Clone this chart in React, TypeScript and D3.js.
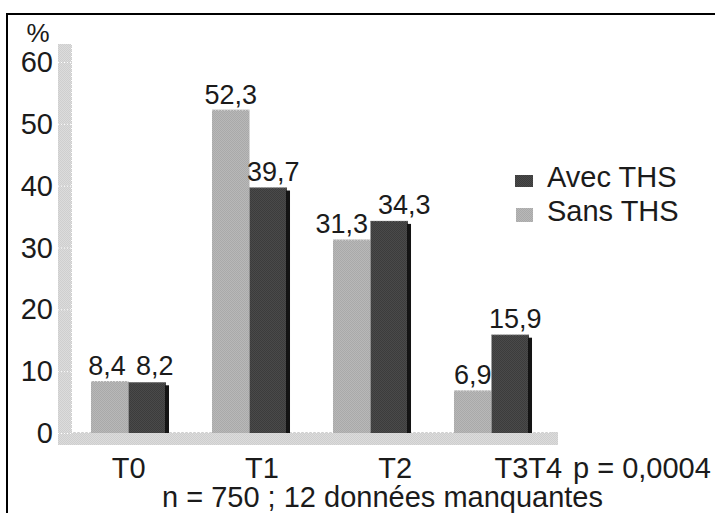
import React from "react";
import * as d3 from "d3";

const categories = ["T0", "T1", "T2", "T3T4"];
const avecTHS = [8.2, 39.7, 34.3, 15.9];
const sansTHS = [8.4, 52.3, 31.3, 6.9];
const yTicks = [0, 10, 20, 30, 40, 50, 60];
const seriesNames = ["Avec THS", "Sans THS"];

const W = 715;
const H = 513;
const FONT = "'Liberation Sans', Arial, Helvetica, sans-serif";
const TEXT = "#1b1b1b";
const SHADOW = "#141414";

const fmt = (v: number) => v.toFixed(1).replace(".", ",");

export default function App() {
  const y = d3.scaleLinear().domain([0, 60]).range([433, 62]);
  const x = d3
    .scaleBand<string>()
    .domain(categories)
    .range([68, 552])
    .paddingInner(0.38)
    .paddingOuter(0.19);
  // category captions sit on a slightly wider projected axis
  const xLabel = d3.scaleBand<string>().domain(categories).range([62, 595]);
  const barW = x.bandwidth() / 2;

  const wallX0 = 58;
  const wallX1 = 72;
  const floorY0 = y(0) - 1;
  const floorY1 = floorY0 + 13;
  const floorX1 = 558;

  const labelFont = 27;
  const bigFont = 29;
  const textW = (s: string) => s.length * 0.54 * labelFont;

  return (
    <svg
      width={W}
      height={H}
      viewBox={`0 0 ${W} ${H}`}
      style={{ position: "fixed", left: 0, top: 0, background: "#fff" }}
      fontFamily={FONT}
    >
      <defs>
        <pattern id="ditherLight" width="2" height="2" patternUnits="userSpaceOnUse">
          <rect width="2" height="2" fill="#b8b8b8" />
          <rect width="1" height="1" fill="#a9a9a9" />
          <rect x="1" y="1" width="1" height="1" fill="#a9a9a9" />
        </pattern>
        <pattern id="ditherDark" width="2" height="2" patternUnits="userSpaceOnUse">
          <rect width="2" height="2" fill="#4a4a4a" />
          <rect width="1" height="1" fill="#3c3c3c" />
          <rect x="1" y="1" width="1" height="1" fill="#3c3c3c" />
        </pattern>
        <pattern id="ditherWall" width="2" height="2" patternUnits="userSpaceOnUse">
          <rect width="2" height="2" fill="#dcdcdc" />
          <rect width="1" height="1" fill="#cecece" />
          <rect x="1" y="1" width="1" height="1" fill="#cecece" />
        </pattern>
      </defs>

      {/* outer frame */}
      <rect x={7} y={14} width={W + 10} height={H + 10} fill="none" stroke="#000" strokeWidth={2} />

      {/* side wall and floor */}
      <rect x={wallX0} y={44} width={wallX1 - wallX0} height={floorY0 - 44} fill="url(#ditherWall)" />
      <rect x={wallX0} y={floorY0} width={floorX1 - wallX0} height={floorY1 - floorY0} fill="url(#ditherWall)" />
      <line x1={wallX1 - 0.5} x2={wallX1 - 0.5} y1={44} y2={floorY0} stroke="#fff" strokeDasharray="1,3" />
      <line x1={wallX1} x2={floorX1 - 6} y1={floorY0 + 0.5} y2={floorY0 + 0.5} stroke="#fff" strokeDasharray="1,3" />

      {/* y ticks on the wall */}
      {yTicks.map((t) => (
        <g key={t}>
          <line x1={wallX0} x2={wallX1} y1={y(t) + 0.5} y2={y(t) + 0.5} stroke="#fff" strokeDasharray="1,2" />
          <text x={53} y={y(t) + 10} textAnchor="end" fontSize={bigFont} fill={TEXT}>
            {t}
          </text>
        </g>
      ))}
      <text x={38} y={42} textAnchor="middle" fontSize={26} fill={TEXT}>
        %
      </text>

      {/* bars */}
      {categories.map((c, i) => {
        const x0 = x(c)!;
        const vs = sansTHS[i];
        const va = avecTHS[i];
        const ys = y(vs);
        const ya = y(va);
        const base = y(0);
        const cs = x0 + barW / 2;
        const ca = x0 + barW * 1.5;
        let dxs = 0;
        let dxa = 5;
        if (Math.abs(ys - ya) < 24) {
          const need = textW(fmt(vs)) / 2 + textW(fmt(va)) / 2 + 4;
          const have = ca + dxa - (cs + dxs);
          if (need > have) {
            const push = (need - have) / 2;
            dxs -= push;
            dxa += push;
          }
        }
        return (
          <g key={c}>
            <rect x={x0} y={ys} width={barW} height={base - ys} fill="url(#ditherLight)" />
            <line x1={x0} x2={x0 + barW} y1={ys + 0.5} y2={ys + 0.5} stroke="#e2e2e2" strokeDasharray="1,2" />
            <rect x={x0 + barW} y={ya} width={barW} height={base - ya} fill="url(#ditherDark)" />
            <rect x={x0 + 2 * barW - 1} y={ya + 3} width={4} height={base - ya - 3} fill={SHADOW} />
            <line x1={x0 + barW} x2={x0 + 2 * barW} y1={ya + 0.5} y2={ya + 0.5} stroke="#777" strokeDasharray="1,2" />
            <text x={cs + dxs} y={ys - 6} textAnchor="middle" fontSize={labelFont} fill={TEXT}>
              {fmt(vs)}
            </text>
            <text x={ca + dxa} y={ya - 7} textAnchor="middle" fontSize={labelFont} fill={TEXT}>
              {fmt(va)}
            </text>
            <text
              x={xLabel(c)! + xLabel.bandwidth() / 2}
              y={478}
              textAnchor="middle"
              fontSize={bigFont}
              fill={TEXT}
            >
              {c}
            </text>
          </g>
        );
      })}

      <text x={573} y={478} fontSize={bigFont} fill={TEXT}>
        p = 0,0004
      </text>
      <text x={162} y={507} fontSize={bigFont} fill={TEXT}>
        n = 750 ; 12 données manquantes
      </text>

      {/* legend */}
      <rect x={515} y={175} width={18} height={12} fill="url(#ditherDark)" />
      <text x={547} y={187} fontSize={bigFont} fill={TEXT}>
        {seriesNames[0]}
      </text>
      <rect x={516} y={208} width={17} height={14} fill="url(#ditherLight)" />
      <text x={547} y={221} fontSize={bigFont} fill={TEXT}>
        {seriesNames[1]}
      </text>
    </svg>
  );
}
